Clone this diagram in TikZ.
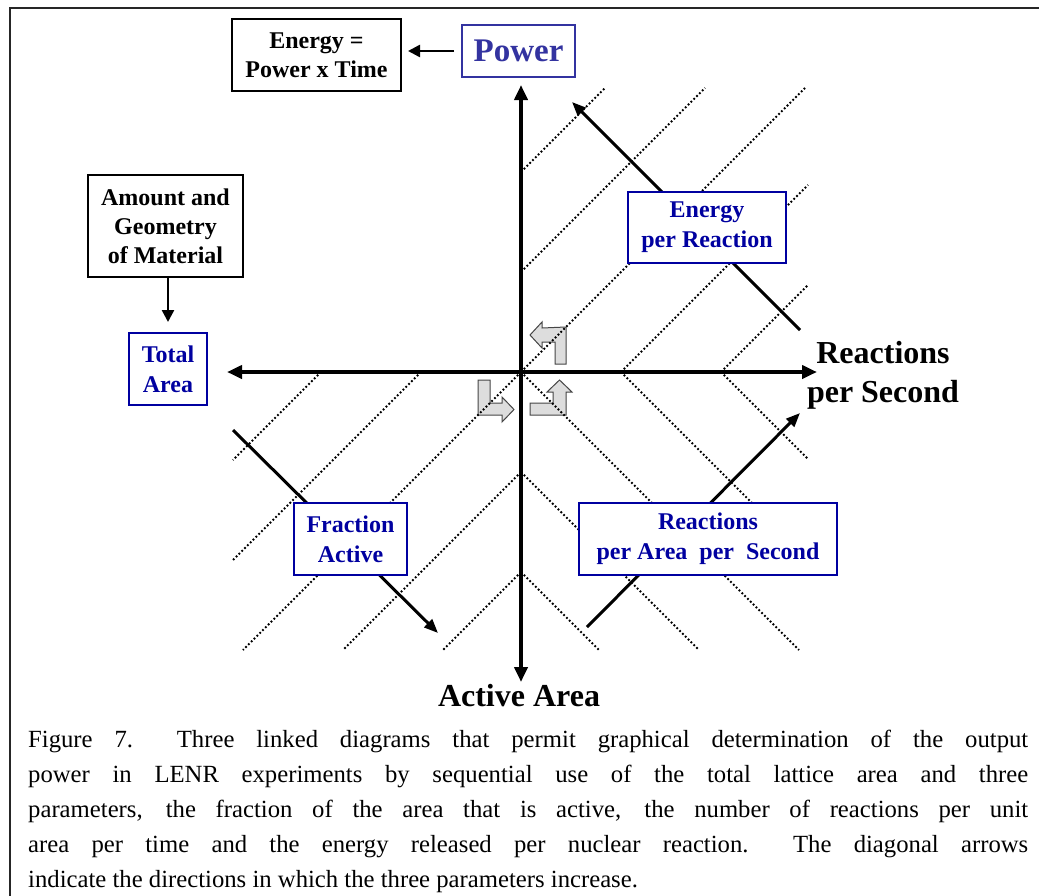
\documentclass[tikz,border=0pt]{standalone}
\usepackage{fontspec}
\setmainfont{Liberation Serif}
\usetikzlibrary{arrows.meta}
\definecolor{boxblue}{RGB}{0,0,160}
\definecolor{powblue}{RGB}{51,51,160}
\definecolor{grayfill}{RGB}{221,221,221}
\definecolor{grayline}{RGB}{70,70,70}
\begin{document}
\begin{tikzpicture}[x=1pt,y=-1pt,
  blkbox/.style={draw=black,line width=2pt,fill=white,align=center,inner sep=0pt,font=\bfseries\fontsize{24}{29}\selectfont},
  bluebox/.style={draw=boxblue,line width=2pt,fill=white,align=center,inner sep=0pt,text=boxblue,font=\bfseries\fontsize{24}{30}\selectfont},
  axis/.style={line width=4pt,-{Triangle[length=15pt,width=13pt]}},
  diag/.style={line width=3pt,-{Triangle[length=14pt,width=11pt]}},
  dots/.style={line width=2pt,dash pattern=on 1.8pt off 2.2pt},
  small/.style={line width=2.5pt,-{Triangle[length=12pt,width=12pt]}},
  turn/.style={fill=grayfill,draw=grayline,line width=1pt,line join=miter},
]
\useasboundingbox (0,0) rectangle (1039,895);
\fill[white] (0,0) rectangle (1039,895);
% frame
\draw[line width=2pt,draw=black!85] (10,905) -- (10,8) -- (1045,8);

% gray turn arrows
\filldraw[turn] (566,327) -- (566,364) -- (555,364) -- (555,342) -- (542,342) -- (542,348) -- (530,335) -- (542,322) -- (542,328) -- cycle;
\filldraw[turn] (478,380) -- (490,380) -- (490,403) -- (502,403) -- (502,397) -- (514,409.5) -- (502,422) -- (502,415) -- (478,415) -- cycle;
\filldraw[turn] (530,415) -- (530,403) -- (553,403) -- (553,392) -- (547,392) -- (559.5,380) -- (572,392) -- (566,392) -- (566,415) -- cycle;

% dotted guide lines, upper right
\draw[dots] (521,172) -- (605,88);
\draw[dots] (521,272) -- (705,88);
\draw[dots] (521,372) -- (805,88);
\draw[dots] (621,372) -- (808,185);
\draw[dots] (721,372) -- (808,285);
% lower left
\draw[dots] (321,372) -- (233,460);
\draw[dots] (421,372) -- (233,560);
\draw[dots] (521,372) -- (243,650);
\draw[dots] (521,472) -- (343,650);
\draw[dots] (521,572) -- (443,650);
% lower right
\draw[dots] (721,372) -- (808,459);
\draw[dots] (621,372) -- (808,559);
\draw[dots] (521,372) -- (799,650);
\draw[dots] (521,472) -- (699,650);
\draw[dots] (521,572) -- (599,650);

% diagonal parameter arrows
\coordinate (eprA) at (800,330);
\coordinate (eprB) at (572,102);
\coordinate (faA) at (233,430);
\coordinate (faB) at (438,633);
\coordinate (rpaA) at (587,627);
\coordinate (rpaB) at (800,413);
\draw[diag] (eprA) -- (eprB);
\draw[diag] (faA) -- (faB);
\draw[diag] (rpaA) -- (rpaB);

% axes
\coordinate (O) at (521,372);
\coordinate (top) at (521,85);
\coordinate (bot) at (521,682);
\coordinate (lft) at (227,372);
\coordinate (rgt) at (817,372);
\draw[axis] (O) -- (top);
\draw[axis] (O) -- (bot);
\draw[axis] (O) -- (lft);
\draw[axis] (O) -- (rgt);

% boxes
\node[blkbox,minimum width=169pt,minimum height=72pt] (energy) at (316.5,55) {Energy =\\Power x Time};
\node[draw=powblue,line width=2pt,fill=white,inner sep=0pt,text=powblue,font=\bfseries\fontsize{33}{36}\selectfont,minimum width=113pt,minimum height=52pt] (power) at (518.5,51) {Power};
\node[blkbox,minimum width=155pt,minimum height=102pt] (amount) at (165.5,226) {Amount and\\Geometry\\of Material};
\node[bluebox,minimum width=78pt,minimum height=72pt] (total) at (168,369) {Total\\Area};
\node[bluebox,minimum width=158pt,minimum height=71pt] (epr) at (707,227.5) {Energy\\per Reaction};
\node[bluebox,minimum width=113pt,minimum height=72pt] (frac) at (350.5,539) {Fraction\\Active};
\node[bluebox,minimum width=258pt,minimum height=72pt] (rpa) at (708,539) {Reactions\\per Area\ \ per\ \ Second};

\draw[small,shorten <=7pt,shorten >=6pt] (power.west) -- (energy.east |- power.west);
\draw[small,shorten >=10pt] (amount.south -| total.north) -- (total.north);

% axis labels
\node[inner sep=0pt,align=center,font=\bfseries\fontsize{32}{39}\selectfont] (rps) at (883,375) {Reactions\\per Second};
\node[inner sep=0pt,anchor=base,font=\bfseries\fontsize{32}{36}\selectfont] (aa) at (519,706) {Active Area};

% caption
\node[anchor=north west,inner sep=0pt,text width=1000pt,align=justify,font=\fontsize{24.7}{35}\selectfont] (cap) at (28,729.5)
{Figure 7.\ \ Three linked diagrams that permit graphical determination of the output\linebreak
power in LENR experiments by sequential use of the total lattice area and three\linebreak
parameters, the fraction of the area that is active, the number of reactions per unit\linebreak
area per time and the energy released per nuclear reaction.\ \ The diagonal arrows\linebreak
indicate the directions in which the three parameters increase.};
\end{tikzpicture}
\end{document}
